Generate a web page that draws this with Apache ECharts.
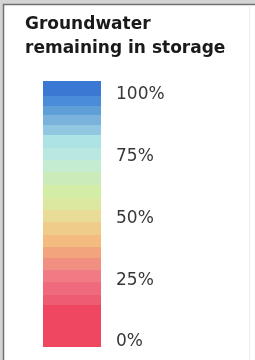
<!DOCTYPE html>
<html>
<head>
<meta charset="utf-8">
<script src="https://cdn.jsdelivr.net/npm/echarts@6/dist/echarts.min.js"></script>
<style>
    html, body { margin: 0; padding: 0; background: #fff; }
    #container { width: 255px; height: 360px; }
</style>
</head>
<body>
<div id="container"></div>
<script>
// colour bands, top (full) to bottom (empty)
var band_colors = ['#3a78d4', '#4a8cd7', '#5e9fd8', '#79b3dc', '#91c7e0', '#aee3e6', '#b8e8e0',
    '#c3ecd0', '#cbecba', '#d3eca6', '#dce8a0', '#e8dc96', '#f0cc8a', '#f3bb80', '#f2a57c',
    '#f18f80', '#f07b84', '#ef6a7c', '#ee5c72', '#ef4761'];
// thickness of each band, same order
var band_sizes = [15, 10, 9, 10, 10, 13, 12, 12, 13, 13, 12, 12, 13, 12, 11, 12, 12, 13, 10, 42];
var tick_values = [0, 25, 50, 75, 100];
var title_text = 'Groundwater\nremaining in storage';

var dom = document.getElementById("container");
var myChart = echarts.init(dom);

var total = 0;
for (var i = 0; i < band_sizes.length; i++) {
    total += band_sizes[i];
}

// stacked from the bottom up
var series = [];
for (var j = band_sizes.length - 1; j >= 0; j--) {
    series.push({
        type: 'bar',
        stack: 'band',
        yAxisIndex: 0,
        barWidth: '100%',
        silent: true,
        data: [band_sizes[j]],
        itemStyle: {color: band_colors[j]}
    });
}

var option = {
    backgroundColor: '#fff',
    animation: false,
    title: {
        text: title_text,
        left: 20,
        top: 8,
        textStyle: {
            fontFamily: 'DejaVu Sans',
            fontWeight: 'bold',
            fontSize: 17,
            lineHeight: 24,
            color: '#1a1a1a'
        }
    },
    graphic: [
        {type: 'rect', shape: {x: 0, y: 0, width: 255, height: 4}, style: {fill: '#d4d4d4'}, silent: true},
        {type: 'rect', shape: {x: 0, y: 0, width: 3, height: 360}, style: {fill: '#d4d4d4'}, silent: true},
        {type: 'line', shape: {x1: 3.5, y1: 4, x2: 3.5, y2: 360}, style: {stroke: '#707070', lineWidth: 1.5}, silent: true},
        {type: 'line', shape: {x1: 3, y1: 4.5, x2: 255, y2: 4.5}, style: {stroke: '#707070', lineWidth: 1.5}, silent: true},
        {type: 'line', shape: {x1: 249.5, y1: 5, x2: 249.5, y2: 360}, style: {stroke: '#ececec', lineWidth: 1}, silent: true}
    ],
    grid: {
        left: 43,
        right: 154,
        top: 81,
        bottom: 13
    },
    xAxis: {
        type: 'category',
        data: ['storage'],
        show: false
    },
    yAxis: [
        {
            type: 'value',
            min: 0,
            max: total,
            show: false
        },
        {
            type: 'value',
            position: 'right',
            min: -2.0,
            max: 105.6,
            axisLine: {show: false},
            axisTick: {show: false},
            splitLine: {show: false},
            axisLabel: {
                customValues: tick_values,
                margin: 15,
                formatter: '{value}%',
                fontFamily: 'DejaVu Sans',
                fontSize: 17,
                color: '#383838'
            }
        }
    ],
    series: series
};

if (option && typeof option === "object") {
    myChart.setOption(option, true);
}
</script>
</body>
</html>
